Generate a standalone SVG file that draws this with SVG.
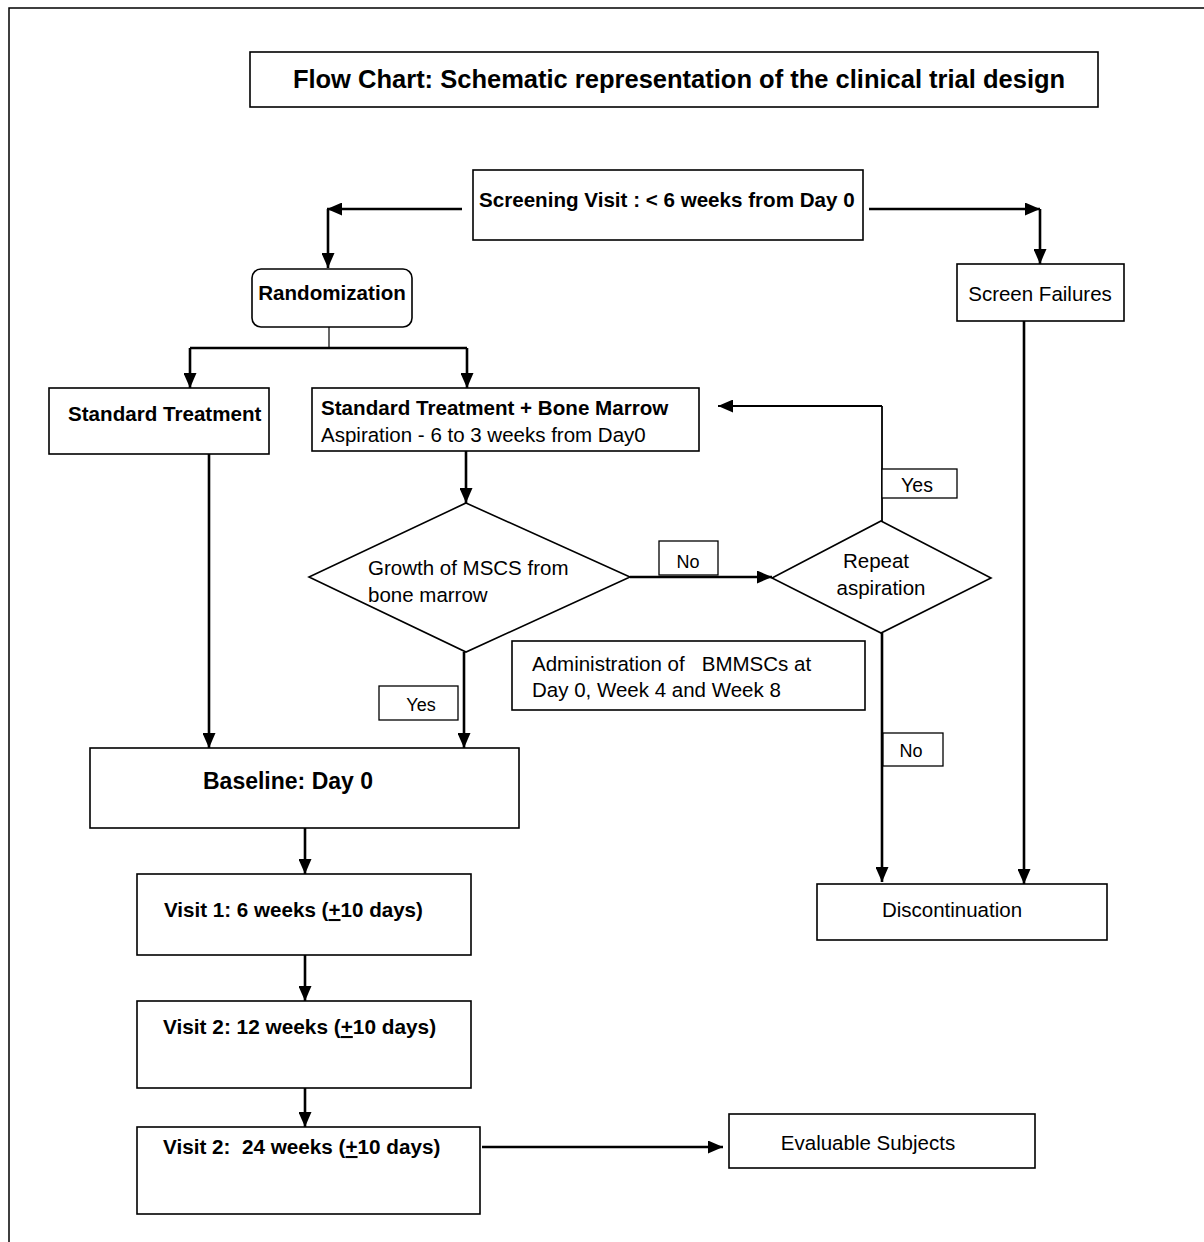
<svg xmlns="http://www.w3.org/2000/svg" width="1204" height="1242" viewBox="0 0 1204 1242">
<style>
.box{fill:#fff;stroke:#000;stroke-width:1.6}
.lbl{fill:#fff;stroke:#000;stroke-width:1.3}
.c{fill:none;stroke:#000;stroke-width:2.6}
.m{fill:none;stroke:#000;stroke-width:1.8}
.thin{fill:none;stroke:#000;stroke-width:1.2}
text{font-family:"Liberation Sans",Arial,sans-serif;font-size:20.5px;fill:#000}
.b{font-weight:bold;font-size:20.6px}
.t{font-weight:bold;font-size:25.5px}
.s{font-size:18px}
.u{text-decoration:underline}
</style>
<defs>
<marker id="ah" viewBox="0 0 15 13" refX="15" refY="6.5" markerWidth="15" markerHeight="13" markerUnits="userSpaceOnUse" orient="auto">
<path d="M0,0 L15,6.5 L0,13 Z" fill="#000"/>
</marker>
</defs>
<rect x="0" y="0" width="1204" height="1242" fill="#fff"/>
<path d="M9,1242 V8 H1204" fill="none" stroke="#000" stroke-width="1.5"/>

<g id="connectors">
<path class="c" d="M462,209 H327" marker-end="url(#ah)"/>
<path class="c" d="M328,209 V268" marker-end="url(#ah)"/>
<path class="c" d="M869,209 H1040" marker-end="url(#ah)"/>
<path class="c" d="M1040,209 V264" marker-end="url(#ah)"/>
<path class="thin" d="M329,327 V348"/>
<path class="c" d="M190,348 H467"/>
<path class="c" d="M190,348 V388" marker-end="url(#ah)"/>
<path class="c" d="M467,348 V388" marker-end="url(#ah)"/>
<path class="c" d="M466,451 V503" marker-end="url(#ah)"/>
<path class="c" d="M630,577 H772" marker-end="url(#ah)"/>
<path class="m" d="M882,521 V406"/>
<path class="m" d="M882,406 H718" marker-end="url(#ah)"/>
<path class="c" d="M882,633 V882" marker-end="url(#ah)"/>
<path class="c" d="M1024,321 V884" marker-end="url(#ah)"/>
<path class="c" d="M464,652 V748" marker-end="url(#ah)"/>
<path class="c" d="M209,454 V748" marker-end="url(#ah)"/>
<path class="c" d="M305,828 V874" marker-end="url(#ah)"/>
<path class="c" d="M305,955 V1001" marker-end="url(#ah)"/>
<path class="c" d="M305,1088 V1127" marker-end="url(#ah)"/>
<path class="c" d="M482,1147 H723" marker-end="url(#ah)"/>
</g>

<g id="title">
<rect class="box" x="250" y="52" width="848" height="55"/>
<text class="t" x="679" y="88" text-anchor="middle">Flow Chart: Schematic representation of the clinical trial design</text>
</g>
<g id="screening">
<rect class="box" x="473" y="170" width="390" height="70"/>
<text class="b" x="479" y="207">Screening Visit : &lt; 6 weeks from Day 0</text>
</g>
<g id="randomization">
<rect class="box" x="252" y="269" width="160" height="58" rx="9"/>
<text class="b" x="332" y="300" text-anchor="middle">Randomization</text>
</g>
<g id="screen-failures">
<rect class="box" x="957" y="264" width="167" height="57"/>
<text x="1040" y="301" text-anchor="middle">Screen Failures</text>
</g>
<g id="standard-treatment">
<rect class="box" x="49" y="388" width="220" height="66"/>
<text class="b" x="68" y="421">Standard Treatment</text>
</g>
<g id="standard-bm">
<rect class="box" x="312" y="388" width="387" height="63"/>
<text class="b" x="321" y="415">Standard Treatment + Bone Marrow</text>
<text x="321" y="442">Aspiration - 6 to 3 weeks from Day0</text>
</g>
<g id="growth">
<polygon class="box" points="466,503 630,577 466,652 309,577"/>
<text x="368" y="575">Growth of MSCS from</text>
<text x="368" y="602">bone marrow</text>
</g>
<g id="repeat">
<polygon class="box" points="881,521 991,578 881,633 772,578"/>
<text x="876" y="568" text-anchor="middle">Repeat</text>
<text x="881" y="595" text-anchor="middle">aspiration</text>
</g>
<g id="label-no-1">
<rect class="lbl" x="659" y="541" width="59" height="34"/>
<text class="s" x="688" y="568" text-anchor="middle">No</text>
</g>
<g id="label-yes-1">
<rect class="lbl" x="882" y="469" width="75" height="29"/>
<text x="917" y="492" text-anchor="middle" style="font-size:19.5px">Yes</text>
</g>
<g id="label-yes-2">
<rect class="lbl" x="379" y="686" width="79" height="34"/>
<text class="s" x="421" y="711" text-anchor="middle">Yes</text>
</g>
<g id="label-no-2">
<rect class="lbl" x="883" y="733" width="60" height="33"/>
<text class="s" x="911" y="757" text-anchor="middle">No</text>
</g>
<g id="administration">
<rect class="box" x="512" y="641" width="353" height="69"/>
<text x="532" y="671" style="white-space:pre">Administration of   BMMSCs at</text>
<text x="532" y="697">Day 0, Week 4 and Week 8</text>
</g>
<g id="discontinuation">
<rect class="box" x="817" y="884" width="290" height="56"/>
<text x="952" y="917" text-anchor="middle">Discontinuation</text>
</g>
<g id="baseline">
<rect class="box" x="90" y="748" width="429" height="80"/>
<text class="b" x="203" y="789" style="font-size:23px">Baseline: Day 0</text>
</g>
<g id="visit1">
<rect class="box" x="137" y="874" width="334" height="81"/>
<text class="b" x="164" y="917">Visit 1: 6 weeks (<tspan class="u">+</tspan>10 days)</text>
</g>
<g id="visit2">
<rect class="box" x="137" y="1001" width="334" height="87"/>
<text class="b" x="163" y="1034" style="font-size:20.8px">Visit 2: 12 weeks (<tspan class="u">+</tspan>10 days)</text>
</g>
<g id="visit3">
<rect class="box" x="137" y="1127" width="343" height="87"/>
<text class="b" x="163" y="1154" style="white-space:pre;font-size:20.7px">Visit 2:  24 weeks (<tspan class="u">+</tspan>10 days)</text>
</g>
<g id="evaluable">
<rect class="box" x="729" y="1114" width="306" height="54"/>
<text x="868" y="1150" text-anchor="middle">Evaluable Subjects</text>
</g>
</svg>
